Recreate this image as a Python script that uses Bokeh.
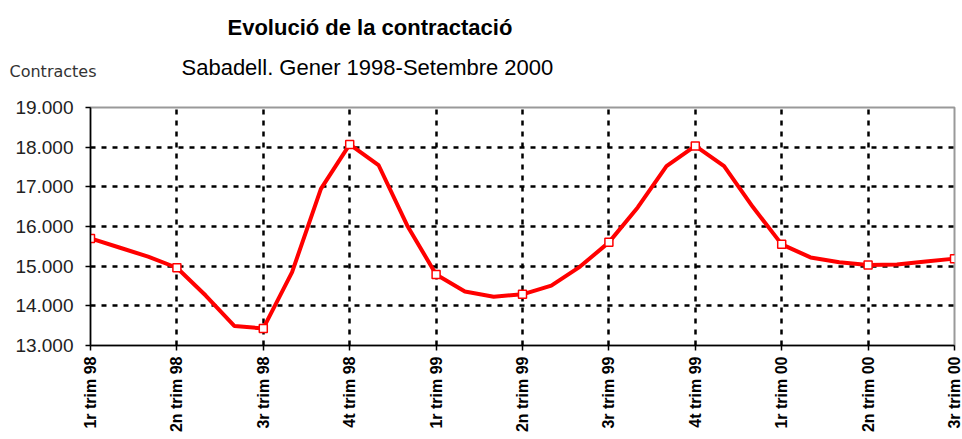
from bokeh.plotting import figure
from bokeh.models import Range1d, FixedTicker, Label, Title
from bokeh.embed import file_html
from bokeh.resources import INLINE

# ---- data ----
mesos = list(range(31))  # monthly index
contractes = [15700, 15470, 15240, 14960, 14260, 13490, 13430, 14850, 16950, 18070,
              17550, 16020, 14790, 14360, 14230, 14290, 14510, 14990, 15600, 16480,
              17520, 18030, 17520, 16490, 15550, 15220, 15100, 15030, 15040, 15120, 15190]
trim_pos = [0, 3, 6, 9, 12, 15, 18, 21, 24, 27, 30]
trim_labels = ["1r trim 98", "2n trim 98", "3r trim 98", "4t trim 98",
               "1r trim 99", "2n trim 99", "3r trim 99", "4t trim 99",
               "1r trim 00", "2n trim 00", "3r trim 00"]
y_ticks = [13000, 14000, 15000, 16000, 17000, 18000, 19000]
y_labels = ["13.000", "14.000", "15.000", "16.000", "17.000", "18.000", "19.000"]

title_text = "Evolució de la contractació"
subtitle_text = "Sabadell. Gener 1998-Setembre 2000"
ylabel_text = "Contractes"

p = figure(width=962, height=439, output_backend="svg", toolbar_location=None,
           x_range=Range1d(0, 30), y_range=Range1d(13000, 19000),
           min_border_left=90, min_border_right=8, min_border_top=107, min_border_bottom=94,
           background_fill_color="white", border_fill_color="white")

# grids
p.xaxis.ticker = FixedTicker(ticks=trim_pos)
p.yaxis.ticker = FixedTicker(ticks=y_ticks)
p.xaxis.major_label_overrides = {k: v for k, v in zip(trim_pos, trim_labels)}
p.yaxis.major_label_overrides = {k: v for k, v in zip(y_ticks, y_labels)}
for g in (p.xgrid, p.ygrid):
    g.grid_line_color = "black"
    g.grid_line_dash = "5 6"
    g.grid_line_width = 2.5

p.outline_line_color = "#999999"
p.outline_line_width = 2

# axes
for ax in (p.xaxis, p.yaxis):
    ax.axis_line_color = "black"
    ax.axis_line_width = 1.5
    ax.major_tick_line_color = "black"
    ax.major_tick_line_width = 1.5
    ax.major_tick_in = 0
    ax.major_tick_out = 5
    ax.minor_tick_line_color = None

p.yaxis.major_label_text_font = "Liberation Sans"
p.yaxis.major_label_text_font_size = "19px"
p.yaxis.major_label_text_color = "#222222"
p.yaxis.major_label_standoff = 12

p.xaxis.major_label_orientation = 3.14159265 / 2
p.xaxis.major_label_text_font = "Liberation Sans"
p.xaxis.major_label_text_font_style = "bold"
p.xaxis.major_label_text_font_size = "16px"
p.xaxis.major_label_text_color = "black"
p.xaxis.major_label_standoff = 6

# series
p.line(mesos, contractes, line_color="#ff0000", line_width=4)
p.scatter(mesos[::3], contractes[::3], marker="square", size=8,
          fill_color="white", line_color="#ff0000", line_width=1.5)

# header rows (first added sits nearest the plot)
p.add_layout(Label(x=-81, y=36, x_units="screen", y_units="screen", text=ylabel_text,
                   text_align="left", text_baseline="alphabetic",
                   text_font="DejaVu Sans", text_font_size="16px", text_color="#333333"),
             "above")
p.add_layout(Title(text=subtitle_text, align="left", offset=91,
                   text_font="Liberation Sans", text_font_size="22px",
                   text_font_style="normal", text_color="black", standoff=18), "above")
p.add_layout(Title(text=title_text, align="left", offset=137,
                   text_font="Liberation Sans", text_font_size="22px",
                   text_font_style="bold", text_color="black", standoff=8), "above")

open("out.html", "w").write(file_html(p, INLINE))
